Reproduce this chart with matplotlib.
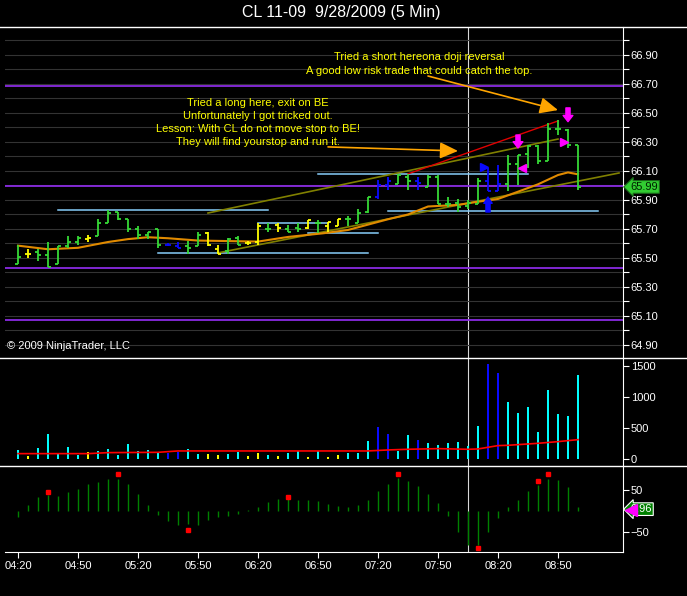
import matplotlib
matplotlib.use("Agg")
import matplotlib.pyplot as plt
from matplotlib.ticker import FixedLocator

plt.rcParams['font.family'] = ['Liberation Sans', 'DejaVu Sans']

# ---- data (bar 1 = 04:20, 5 min bars) ----
opens = [65.46, 65.53, 65.54, 65.52, 65.46, 65.58, 65.61, 65.63, 65.65, 65.74,
         65.82, 65.77, 65.70, 65.66, 65.70, 65.59, 65.58, 65.58, 65.58, 65.67,
         65.56, 65.55, 65.64, 65.60, 65.61, 65.70, 65.73, 65.70, 65.71, 65.71,
         65.74, 65.72, 65.72, 65.77, 65.74, 65.82, 65.92, 66.00, 66.01, 66.06,
         66.03, 65.99, 66.06, 65.87, 65.88, 65.86, 65.87, 66.03, 65.96, 66.01,
         66.15, 66.22, 66.27, 66.17, 66.39, 66.38, 66.28]
highs = [65.59, 65.56, 65.56, 65.61, 65.58, 65.65, 65.65, 65.66, 65.77, 65.83,
         65.82, 65.77, 65.72, 65.68, 65.70, 65.60, 65.61, 65.62, 65.68, 65.68,
         65.59, 65.64, 65.65, 65.62, 65.74, 65.74, 65.74, 65.73, 65.74, 65.76,
         65.76, 65.75, 65.77, 65.79, 65.84, 65.92, 66.04, 66.06, 66.08, 66.08,
         66.06, 66.07, 66.07, 65.92, 65.91, 65.90, 66.05, 66.12, 66.14, 66.21,
         66.21, 66.28, 66.28, 66.43, 66.45, 66.39, 66.28]
lows = [65.46, 65.50, 65.48, 65.44, 65.46, 65.57, 65.59, 65.61, 65.65, 65.74,
        65.76, 65.68, 65.63, 65.63, 65.57, 65.58, 65.57, 65.53, 65.58, 65.58,
        65.53, 65.53, 65.59, 65.59, 65.59, 65.68, 65.68, 65.68, 65.68, 65.70,
        65.67, 65.68, 65.72, 65.72, 65.74, 65.81, 65.91, 65.97, 66.01, 65.97,
        65.97, 65.99, 65.87, 65.85, 65.82, 65.84, 65.87, 65.96, 65.96, 65.96,
        66.00, 66.12, 66.15, 66.17, 66.35, 66.26, 65.97]
closes = [65.51, 65.53, 65.52, 65.44, 65.58, 65.61, 65.64, 65.64, 65.74, 65.81,
          65.77, 65.70, 65.66, 65.68, 65.59, 65.59, 65.57, 65.57, 65.66, 65.59,
          65.53, 65.63, 65.59, 65.60, 65.72, 65.70, 65.71, 65.68, 65.70, 65.76,
          65.74, 65.75, 65.77, 65.77, 65.81, 65.92, 66.00, 66.03, 66.07, 66.03,
          66.02, 66.06, 65.87, 65.87, 65.85, 65.88, 66.03, 65.96, 66.01, 66.15,
          66.21, 66.27, 66.17, 66.39, 66.39, 66.28, 65.99]
bar_kind = list("gyggggg" "ygggggg" "gbbgg" "yyggyyg" "yggyg" "yyggg" "bbggbgg"
                "ggggbbg" "gggggggg")
volumes = [150, 55, 180, 405, 85, 195, 70, 115, 135, 160,
           70, 245, 135, 150, 115, 100, 125, 165, 85, 80,
           70, 80, 118, 55, 100, 70, 55, 100, 135, 38,
           135, 38, 70, 100, 100, 295, 520, 405, 135, 390,
           310, 262, 230, 262, 280, 215, 535, 1530, 1390, 920,
           745, 840, 440, 1115, 730, 695, 1355]
osc = [-15, 15, 34, 38, 36, 45, 52, 64, 69, 76,
       76, 64, 40, 14, -10, -24, -33, -32, -33, -21,
       -14, -12, -7, 1, 10, 21, 29, 29, 26, 26,
       24, 17, 12, 10, 14, 26, 48, 64, 79, 71,
       60, 40, 19, -12, -52, -81, -81, -50, -17, 10,
       26, 48, 62, 76, 74, 57, 8]
osc_dot_bars = [4, 11, 18, 28, 39, 47, 53, 54]
osc_dot_vals = [46, 89, -45, 34, 89, -90, 72, 89]
osc_last_label = "0.96"

ma_bars = [1, 4, 7, 10, 12, 14, 16, 19, 25, 28, 31.5, 34, 36, 38, 40, 42, 45, 47,
           49, 51, 53, 55, 56, 57]
ma_vals = [65.585, 65.56, 65.57, 65.61, 65.63, 65.643, 65.636, 65.62, 65.613,
           65.645, 65.67, 65.693, 65.73, 65.767, 65.80, 65.855, 65.866, 65.888,
           65.907, 65.957, 66.008, 66.072, 66.09, 66.077]
vol_ma_bars = [1, 8, 10, 15, 17, 36, 38, 40, 43, 46, 47, 49, 50, 53, 55, 57]
vol_ma_vals = [91, 91, 107, 112, 134, 134, 150, 161, 171, 161, 166, 220, 225, 257, 284, 316]

purple_levels = [66.686, 65.999, 65.429, 65.072]
blue_start = [5, 15, 31, 25, 30, 38]
blue_end = [26, 36, 52, 32, 37, 59]
blue_price = [65.829, 65.532, 66.077, 65.739, 65.67, 65.822]
olive_lines = [((20, 65.81), (55, 66.32)), ((21, 65.535), (61.1, 66.086))]
red_line = ((40, 66.08), (55, 66.445))
cursor_bar = 46

time_labels = ["04:20", "04:50", "05:20", "05:50", "06:20", "06:50", "07:20",
               "07:50", "08:20", "08:50"]
time_bars = [1, 7, 13, 19, 25, 31, 37, 43, 49, 55]

note_long = ["Tried a long here, exit on BE", "Unfortunately I got tricked out.",
             "Lesson: With CL do not move stop to BE!", "They will find yourstop and run it."]
note_short = ["Tried a short hereona doji reversal",
              "A good low risk trade that could catch the top."]

price_col = {'g': '#36D936', 'y': '#FFFF00', 'b': '#0A0AFF'}
vol_col = {'g': '#00FFFF', 'y': '#FFFF00', 'b': '#0A0AFF'}

W, H = 687, 596


def rect(x0, y0, x1, y1):
    return [x0 / W, 1 - y1 / H, (x1 - x0) / W, (y1 - y0) / H]


fig = plt.figure(figsize=(W / 100, H / 100), dpi=100, facecolor='black')
axp = fig.add_axes(rect(5, 27, 623, 358))
axv = fig.add_axes(rect(5, 358, 623, 466), sharex=axp)
axo = fig.add_axes(rect(5, 466, 623, 552), sharex=axp)

n = len(opens)
xs = list(range(1, n + 1))

for ax in (axp, axv, axo):
    ax.set_facecolor('black')
    for s in ('left', 'top', 'bottom'):
        ax.spines[s].set_visible(False)
    ax.spines['right'].set_color('white')
    ax.yaxis.tick_right()
    ax.tick_params(axis='y', which='both', colors='white', length=4.5, width=0.8,
                   labelsize=8, pad=1)
    ax.axvline(cursor_bar, color='#d8d8d8', lw=0.8, zorder=1)
axo.spines['bottom'].set_visible(True)
axo.spines['bottom'].set_color('white')
axp.set_xlim(-0.3, 61.5)

# ---- price panel ----
axp.set_ylim(64.810, 67.093)
axp.yaxis.set_major_locator(FixedLocator([64.9 + 0.2 * i for i in range(11)]))
axp.yaxis.set_minor_locator(FixedLocator([65.0 + 0.2 * i for i in range(11)]))
axp.yaxis.set_major_formatter(plt.FuncFormatter(lambda v, p: f"{v:.2f}"))
axp.grid(axis='y', which='both', color='#333333', lw=0.8)
axp.tick_params(axis='x', which='both', bottom=False, labelbottom=False)

for lv in purple_levels:
    axp.axhline(lv, color='#8A2BE2', lw=1.3, zorder=2)
for a, b, p in zip(blue_start, blue_end, blue_price):
    axp.plot([a, b], [p, p], color='#87CEFA', lw=1.1, zorder=2)
for (x0, y0), (x1, y1) in olive_lines:
    axp.plot([x0, x1], [y0, y1], color='#808000', lw=1.2, zorder=2)
axp.plot([red_line[0][0], red_line[1][0]], [red_line[0][1], red_line[1][1]],
         color='#E00000', lw=1.0, zorder=3)
axp.plot(ma_bars, ma_vals, color='#E08A00', lw=1.5, zorder=3)

for i in range(n):
    c = price_col[bar_kind[i]]
    x = xs[i]
    axp.vlines(x, lows[i], highs[i], color=c, lw=1.3, zorder=4)
    axp.hlines(opens[i], x - 0.33, x, color=c, lw=1.3, zorder=4)
    axp.hlines(closes[i], x, x + 0.33, color=c, lw=1.3, zorder=4)

# markers
axp.annotate('', xy=(56, 66.44), xytext=(56, 66.535),
             arrowprops=dict(arrowstyle='simple,head_length=0.45,head_width=0.7,tail_width=0.3',
                             color='#FF00FF', shrinkA=0, shrinkB=0, mutation_scale=10), zorder=6)
axp.annotate('', xy=(51, 66.259), xytext=(51, 66.348),
             arrowprops=dict(arrowstyle='simple,head_length=0.45,head_width=0.7,tail_width=0.3',
                             color='#FF00FF', shrinkA=0, shrinkB=0, mutation_scale=10), zorder=6)
axp.annotate('', xy=(48, 65.92), xytext=(48, 65.817),
             arrowprops=dict(arrowstyle='simple,head_length=0.45,head_width=0.6,tail_width=0.3',
                             color='#0A0AFF', shrinkA=0, shrinkB=0, mutation_scale=10), zorder=6)
axp.plot([51.35], [66.12], marker='<', color='#FF00FF', ms=6, zorder=6)
axp.plot([55.6], [66.30], marker='>', color='#FF00FF', ms=6, zorder=6)
axp.plot([47.6], [66.13], marker='>', color='#0A0AFF', ms=6, zorder=6)

# notes and arrows
for k, line in enumerate(note_long):
    axp.text(25, 66.569 - k * 0.0895, line, color='#FFFF00', fontsize=8,
             ha='center', va='center', zorder=7)
for k, line in enumerate(note_short):
    axp.text(41.1, 66.886 - k * 0.095, line, color='#FFFF00', fontsize=8,
             ha='center', va='center', zorder=7)
arrow_kw = dict(arrowstyle='-|>,head_length=1.1,head_width=0.5', color='#FFA500',
                lw=1.2, shrinkA=0, shrinkB=0, mutation_scale=10)
axp.annotate('', xy=(45, 66.238), xytext=(32.0, 66.266), arrowprops=arrow_kw, zorder=6)
axp.annotate('', xy=(55, 66.52), xytext=(42, 66.755), arrowprops=arrow_kw, zorder=6)

axp.text(0.004, 0.036, "\u00a9 2009 NinjaTrader, LLC", transform=axp.transAxes,
         color='white', fontsize=8, ha='left', va='center')
axp.annotate(f"{closes[-1]:.2f}", xy=(1.0, closes[-1]), xycoords=('axes fraction', 'data'),
             xytext=(1.012, closes[-1]), textcoords=('axes fraction', 'data'),
             color='#002000', fontsize=8, ha='left', va='center', annotation_clip=False,
             bbox=dict(boxstyle='larrow,pad=0.12', fc='#32CD32', ec='#1a6a1a', lw=0.8))

# ---- volume panel ----
axv.set_ylim(-108, 1629)
axv.bar(xs, volumes, width=0.25, color=[vol_col[k] for k in bar_kind], zorder=3)
axv.plot(vol_ma_bars, vol_ma_vals, color='#FF0000', lw=1.2, zorder=4)
axv.set_yticks([0, 500, 1000, 1500])
axv.tick_params(axis='x', which='both', bottom=False, labelbottom=False)

# ---- oscillator panel ----
axo.set_ylim(-99, 107.7)
axo.vlines(xs, 0, osc, color='#008000', lw=1.0, zorder=3)
axo.plot(osc_dot_bars, osc_dot_vals, 's', color='#FF0000', ms=3.2, zorder=4)
axo.set_yticks([-50, 50])
axo.set_xticks(time_bars)
axo.set_xticklabels(time_labels)
axo.tick_params(axis='x', colors='white', length=4.5, width=0.8, labelsize=8, pad=2)
axo.annotate(osc_last_label, xy=(1.0, osc[-1] - 4), xycoords=('axes fraction', 'data'),
             xytext=(1.012, osc[-1] - 4), textcoords=('axes fraction', 'data'),
             color='white', fontsize=8, ha='left', va='center', annotation_clip=False,
             bbox=dict(boxstyle='larrow,pad=0.12', fc='#008000', ec='white', lw=0.8))
axo.plot([1.013], [osc[-1] - 6], marker='<', color='#FF00FF', ms=8,
         transform=axo.get_yaxis_transform(), clip_on=False, zorder=8)

# separators and title
for yy in (27, 358, 466):
    fig.add_artist(plt.Line2D([0, 1], [1 - yy / H, 1 - yy / H], color='white', lw=1.0,
                              transform=fig.transFigure))
fig.text(0.497, 1 - 13 / H, "CL 11-09  9/28/2009 (5 Min)", color='white', fontsize=11.5,
         ha='center', va='center')

fig.savefig('out.png', dpi=100, facecolor='black')
